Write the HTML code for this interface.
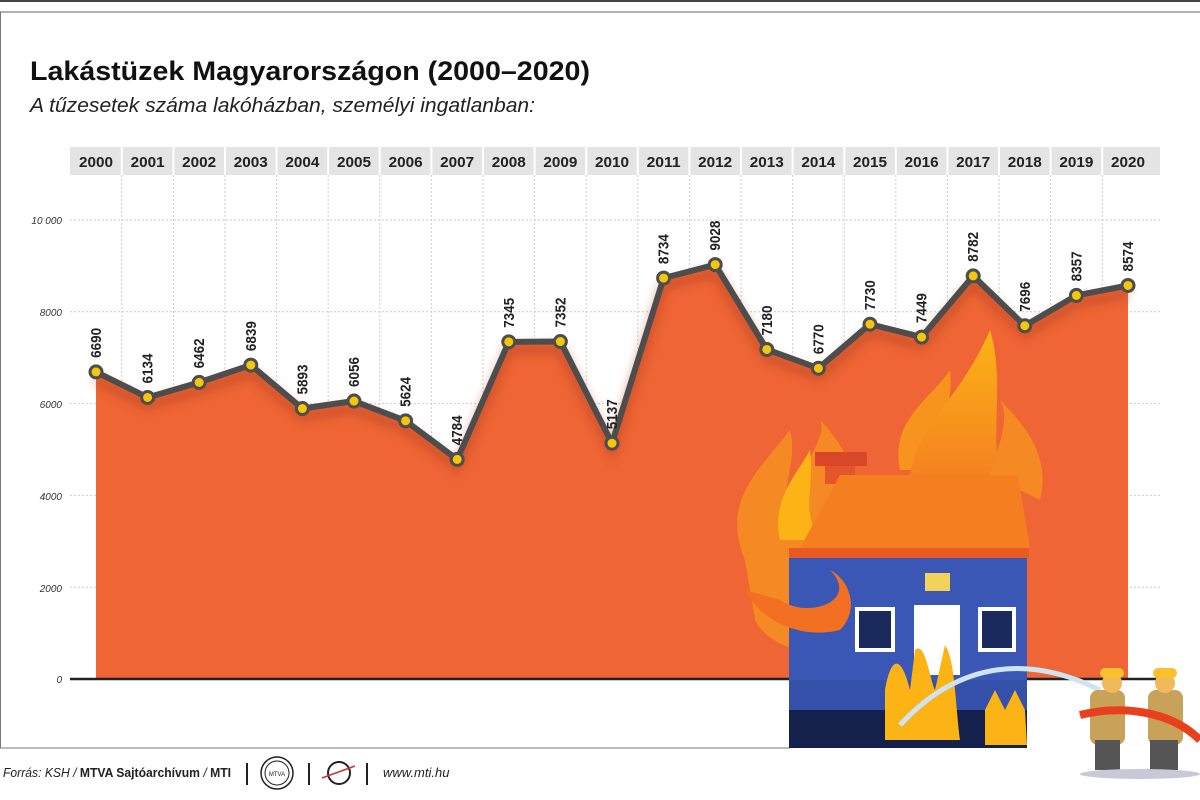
<!DOCTYPE html>
<html><head><meta charset="utf-8"><style>
html,body{margin:0;padding:0;background:#fff;}
body{width:1200px;height:795px;overflow:hidden;}
svg text{font-family:"Liberation Sans",sans-serif;}
</style></head><body>
<svg width="1200" height="795" viewBox="0 0 1200 795" xmlns="http://www.w3.org/2000/svg">
<defs>
<filter id="sh" x="-10%" y="-10%" width="120%" height="140%"><feGaussianBlur stdDeviation="5"/></filter>
<linearGradient id="fl" x1="0" y1="1" x2="0" y2="0"><stop offset="0" stop-color="#f58220"/><stop offset="1" stop-color="#fbb316"/></linearGradient>
</defs>
<rect width="1200" height="795" fill="#fff"/>
<line x1="0" y1="1" x2="1200" y2="1" stroke="#444" stroke-width="2"/>
<line x1="0" y1="12" x2="1200" y2="12" stroke="#666" stroke-width="1"/>
<line x1="0.5" y1="12" x2="0.5" y2="748" stroke="#777" stroke-width="1"/>
<line x1="0" y1="748" x2="790" y2="748" stroke="#777" stroke-width="1"/>

<text x="30" y="80" font-size="27" font-weight="bold" fill="#111" textLength="560" lengthAdjust="spacingAndGlyphs">Lakástüzek Magyarországon (2000–2020)</text>
<text x="30" y="112" font-size="20" font-style="italic" fill="#222" textLength="505" lengthAdjust="spacingAndGlyphs">A tűzesetek száma lakóházban, személyi ingatlanban:</text>

<rect x="70" y="147" width="1090" height="28" fill="#e4e4e4"/>
<g id="hdr" font-size="15" font-weight="bold" fill="#222" text-anchor="middle"></g>

<g stroke="#ccc" stroke-width="1" stroke-dasharray="2,2" id="grid"></g>
<g font-size="10" font-style="italic" fill="#333" text-anchor="end">
<text x="62" y="224">10 000</text>
<text x="62" y="316">8000</text>
<text x="62" y="408">6000</text>
<text x="62" y="500">4000</text>
<text x="62" y="592">2000</text>
<text x="62" y="683">0</text>
</g>

<g id="chart"></g>
<line x1="70" y1="679" x2="1160" y2="679" stroke="#222" stroke-width="2.5"/>

<g>
<path d="M745 560 C720 500 760 470 790 430 C800 470 770 500 800 520 C790 470 830 440 820 420 C860 460 870 520 850 560 C880 580 880 620 850 650 C820 660 770 650 755 620 Z" fill="#f58a24"/>
<path d="M780 540 C770 500 800 470 810 450 C815 490 800 510 820 540 Z" fill="#fbb316"/>
<path d="M900 470 C890 420 930 400 950 370 C955 410 930 440 950 470 Z" fill="#f7941d"/>
<path d="M910 475 C920 420 960 400 990 330 C1005 380 990 430 1000 475 Z" fill="url(#fl)"/>
<path d="M990 475 C1000 440 1010 420 1000 400 C1030 430 1050 460 1040 500 Z" fill="#f58a24"/>
<rect x="815" y="452" width="52" height="14" fill="#d9472b"/>
<rect x="825" y="466" width="30" height="18" fill="#e5542a"/>
<path d="M840 475 L1018 475 L1030 548 L800 548 Z" fill="#f57f20"/>
<rect x="789" y="548" width="240" height="10" fill="#e85a22"/>
<rect x="789" y="558" width="238" height="190" fill="#3b57b5"/>
<rect x="789" y="680" width="238" height="40" fill="#3450a8"/>
<rect x="789" y="710" width="238" height="38" fill="#14214d"/>
<rect x="855" y="607" width="40" height="45" fill="#fff"/><rect x="859" y="611" width="32" height="37" fill="#1b2a5c"/>
<rect x="978" y="607" width="38" height="45" fill="#fff"/><rect x="982" y="611" width="30" height="37" fill="#1b2a5c"/>
<rect x="914" y="605" width="46" height="70" fill="#fff"/>
<rect x="925" y="573" width="25" height="18" fill="#f2d25a"/>
<path d="M885 740 L885 690 C890 660 900 650 910 690 L915 650 C925 640 930 680 935 690 L945 645 C955 660 955 700 960 740 Z" fill="#fbb316"/>
<path d="M985 745 L985 710 L995 690 L1005 710 L1015 690 L1025 710 L1027 745 Z" fill="#fbb316"/>
<path d="M745 590 C760 620 800 640 840 630 C860 610 850 580 830 570 C860 600 810 620 780 600 Z" fill="#f36f21"/>
<path d="M900 725 C960 660 1030 655 1100 690" stroke="#cfe3f0" stroke-width="5" fill="none"/>
<g>
<rect x="1090" y="690" width="35" height="55" rx="8" fill="#c9a25a"/>
<rect x="1095" y="740" width="25" height="30" fill="#555"/>
<circle cx="1112" cy="683" r="10" fill="#f0b95a"/>
<rect x="1100" y="668" width="24" height="10" rx="5" fill="#fbc02d"/>
<rect x="1148" y="690" width="35" height="55" rx="8" fill="#c9a25a"/>
<rect x="1150" y="740" width="28" height="30" fill="#555"/>
<circle cx="1165" cy="683" r="10" fill="#f0b95a"/>
<rect x="1153" y="668" width="24" height="10" rx="5" fill="#fbc02d"/>
<path d="M1080 715 C1120 705 1170 710 1200 740" stroke="#e8401c" stroke-width="8" fill="none"/>
<ellipse cx="1140" cy="774" rx="60" ry="5" fill="#c8c8d8"/>
</g>
</g>

<text x="3" y="777" font-size="13" font-style="italic" fill="#222" textLength="228" lengthAdjust="spacingAndGlyphs">Forrás: KSH / <tspan font-weight="bold" font-style="normal">MTVA Sajtóarchívum</tspan> / <tspan font-weight="bold" font-style="normal">MTI</tspan></text>
<line x1="247" y1="763" x2="247" y2="785" stroke="#222" stroke-width="2"/>
<circle cx="277" cy="773" r="16" fill="none" stroke="#222" stroke-width="1.5"/>
<circle cx="277" cy="773" r="12" fill="none" stroke="#222" stroke-width="1"/>
<text x="277" y="776" font-size="6" text-anchor="middle" fill="#222">MTVA</text>
<line x1="309" y1="763" x2="309" y2="785" stroke="#222" stroke-width="2"/>
<circle cx="339" cy="773" r="11" fill="none" stroke="#222" stroke-width="2"/>
<line x1="322" y1="778" x2="355" y2="766" stroke="#c33" stroke-width="1.5"/>
<line x1="367" y1="763" x2="367" y2="785" stroke="#222" stroke-width="2"/>
<text x="383" y="777" font-size="13" font-style="italic" fill="#222">www.mti.hu</text>
</svg>
<script>
var ns="http://www.w3.org/2000/svg";
var d=[6690,6134,6462,6839,5893,6056,5624,4784,7345,7352,5137,8734,9028,7180,6770,7730,7449,8782,7696,8357,8574];
function X(i){return 96+i*51.6;} function Y(v){return 679-v*0.0459;}
function el(t,a,p){var e=document.createElementNS(ns,t);for(var k in a)e.setAttribute(k,a[k]);p.appendChild(e);return e;}
var hdr=document.getElementById('hdr'),grid=document.getElementById('grid'),ch=document.getElementById('chart');
for(var i=0;i<21;i++){var t=el('text',{x:X(i),y:167,textLength:34,lengthAdjust:'spacingAndGlyphs'},hdr);t.textContent=2000+i;
 if(i>0){el('line',{x1:X(i)-25.8,y1:147,x2:X(i)-25.8,y2:175,stroke:'#fff','stroke-width':2},hdr);
 el('line',{x1:X(i)-25.8,y1:175,x2:X(i)-25.8,y2:679},grid);}}
[10000,8000,6000,4000,2000].forEach(function(v){el('line',{x1:70,y1:Y(v),x2:1160,y2:Y(v)},grid);});
var pts=d.map(function(v,i){return X(i)+','+Y(v);}).join(' ');
el('polygon',{points:X(0)+',679 '+pts+' '+X(20)+',679',fill:'#ef6535'},ch);
el('polyline',{points:d.map(function(v,i){return X(i)+','+(Y(v)+8);}).join(' '),fill:'none',stroke:'#a83a1a','stroke-width':8,opacity:0.5,filter:'url(#sh)'},ch);
el('polyline',{points:pts,fill:'none',stroke:'#4d4d4d','stroke-width':6,'stroke-linejoin':'round'},ch);
d.forEach(function(v,i){el('circle',{cx:X(i),cy:Y(v),r:6,fill:'#f4c60c',stroke:'#4d4d4d','stroke-width':3},ch);
 var t=el('text',{x:0,y:0,'font-size':15,'font-weight':'bold',fill:'#222',textLength:30,lengthAdjust:'spacingAndGlyphs',transform:'translate('+(X(i)+5)+','+(Y(v)-14)+') rotate(-90)'},ch);t.textContent=v;});
</script>
</body></html>
